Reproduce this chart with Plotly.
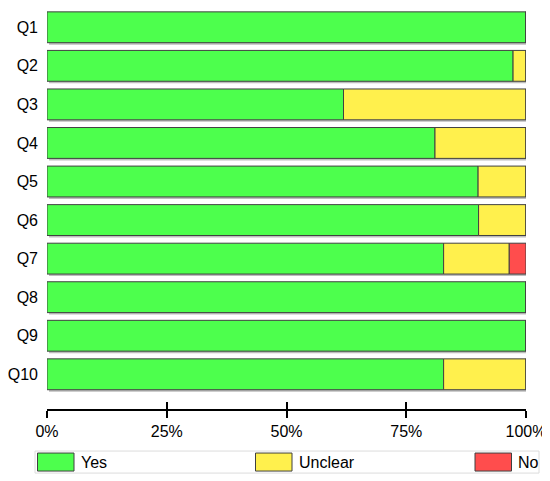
import plotly.graph_objects as go

# values (percent of studies)
questions = ["Q1", "Q2", "Q3", "Q4", "Q5", "Q6", "Q7", "Q8", "Q9", "Q10"]
yes = [100, 97.3, 61.9, 81.0, 90.0, 90.1, 82.8, 100, 100, 82.8]
unclear = [0, 2.7, 38.1, 19.0, 10.0, 9.9, 13.7, 0, 0, 17.2]
no = [0, 0, 0, 0, 0, 0, 3.5, 0, 0, 0]

names = ["Yes", "Unclear", "No"]
colors = ["#4dff4d", "#fff04d", "#ff4d4d"]
xticks = [0, 25, 50, 75, 100]
xticklabels = ["0%", "25%", "50%", "75%", "100%"]

# the page body has an 8px margin, so the figure is drawn 8px in from the top-left
OFF = 8
W, H = 550 - OFF, 481 - OFF
ML, MR, MT, MB = 47 - OFF, 24, 8.4 - OFF, 72
PW, PH = W - ML - MR, H - MT - MB
YRANGE = [9.9, -0.5]
BARW = 0.8


def px(x):
    # page pixel -> paper fraction
    return (x - OFF - ML) / PW


def py(y):
    return (MT + PH - (y - OFF)) / PH


fig = go.Figure()

# soft drop shadow, 2px right and down
sh_x = 2 / PW * 100
sh_y = 2 / PH * (YRANGE[0] - YRANGE[1])
totals = [a + b + c for a, b, c in zip(yes, unclear, no)]
fig.add_trace(go.Bar(y=questions, x=totals, base=sh_x, orientation="h",
                     width=BARW, offset=-BARW / 2 + sh_y,
                     marker=dict(color="#bdbdbd", line=dict(width=0)),
                     showlegend=False, hoverinfo="skip"))

bases = [[0] * len(yes), yes, [a + b for a, b in zip(yes, unclear)]]
for name, vals, base, col in zip(names, [yes, unclear, no], bases, colors):
    fig.add_trace(go.Bar(y=questions, x=vals, base=base, name=name, orientation="h",
                         marker=dict(color=col, line=dict(color="#404040", width=1)),
                         width=BARW, showlegend=False))

# second axis only for the upward half of the ticks
fig.add_trace(go.Scatter(x=[0, 100], y=[questions[0], questions[0]], xaxis="x2",
                         mode="markers", marker=dict(opacity=0), showlegend=False,
                         hoverinfo="skip"))

font = dict(family="Liberation Sans, Arial, sans-serif", size=16, color="black")

# legend box drawn by hand
shapes = [dict(type="rect", xref="paper", yref="paper",
               x0=px(35), x1=px(539), y0=py(473), y1=py(451),
               line=dict(color="#dcdcdc", width=1), fillcolor="white", layer="below")]
annotations = []
swatch_x = [37.5, 255.5, 475]
for name, col, sx in zip(names, colors, swatch_x):
    shapes.append(dict(type="rect", xref="paper", yref="paper",
                       x0=px(sx), x1=px(sx + 36.5), y0=py(471), y1=py(453),
                       line=dict(color="#404040", width=1), fillcolor=col))
    annotations.append(dict(text=name, xref="paper", yref="paper",
                            x=px(sx + 41), y=py(462), xanchor="left", yanchor="middle",
                            showarrow=False, font=font))

fig.update_layout(
    barmode="overlay",
    width=W, height=H,
    margin=dict(l=ML, r=MR, t=MT, b=MB, pad=0),
    plot_bgcolor="white", paper_bgcolor="white",
    font=font,
    shapes=shapes,
    annotations=annotations,
    xaxis=dict(range=[0, 100], tickvals=xticks, ticktext=xticklabels,
               ticks="outside", ticklen=7, tickwidth=1.5, tickcolor="black",
               showline=True, linecolor="black", linewidth=1.5,
               showgrid=False, zeroline=False, tickfont=font, fixedrange=True,
               automargin=False),
    xaxis2=dict(range=[0, 100], overlaying="x", anchor="y", side="bottom",
                tickvals=xticks, ticks="inside", ticklen=7, tickwidth=1.5,
                tickcolor="black", showticklabels=False, showline=False,
                showgrid=False, zeroline=False),
    yaxis=dict(categoryorder="array", categoryarray=questions, range=YRANGE,
               showgrid=False, zeroline=False, showline=False, ticks="",
               ticklabelstandoff=8, tickfont=font, automargin=False),
)

fig.write_html("out.html")
